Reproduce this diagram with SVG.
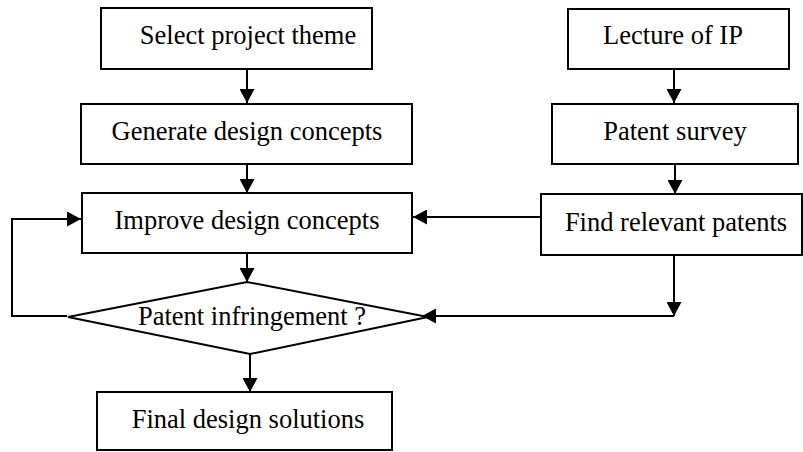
<svg xmlns="http://www.w3.org/2000/svg" width="803" height="452" viewBox="0 0 803 452">
<style>
.box{fill:#fff;stroke:#000;stroke-width:2}
.t{font-family:"Liberation Serif","Times New Roman",serif;font-size:26.5px;fill:#000;text-anchor:middle}
.c{fill:none;stroke:#000;stroke-width:2}
</style>
<defs>
<marker id="ah" markerWidth="14" markerHeight="15" refX="14" refY="7.5" orient="auto" markerUnits="userSpaceOnUse" viewBox="0 0 14 15">
<path d="M0,0 L14,7.5 L0,15 Z" fill="#000"/>
</marker>
</defs>
<rect width="803" height="452" fill="#fff"/>
<g id="connectors">
<line class="c" x1="247" y1="69" x2="247" y2="103" marker-end="url(#ah)"/>
<line class="c" x1="247" y1="164" x2="247" y2="193" marker-end="url(#ah)"/>
<line class="c" x1="247" y1="253" x2="247" y2="282" marker-end="url(#ah)"/>
<line class="c" x1="250" y1="354" x2="250" y2="392" marker-end="url(#ah)"/>
<line class="c" x1="674" y1="69" x2="674" y2="103" marker-end="url(#ah)"/>
<line class="c" x1="675" y1="164" x2="675" y2="194" marker-end="url(#ah)"/>
<line class="c" x1="541" y1="217" x2="413" y2="217" marker-end="url(#ah)"/>
<line class="c" x1="674" y1="255" x2="674" y2="316" marker-end="url(#ah)"/>
<line class="c" x1="674" y1="316" x2="422" y2="316" marker-end="url(#ah)"/>
<polyline class="c" points="67,316 12,316 12,219 81,219" marker-end="url(#ah)"/>
</g>
<g id="select"><rect class="box" x="101" y="8" width="271" height="61"/><text class="t" x="248" y="44">Select project theme</text></g>
<g id="generate"><rect class="box" x="81" y="104" width="331" height="60"/><text class="t" x="247" y="140">Generate design concepts</text></g>
<g id="improve"><rect class="box" x="82" y="193" width="330" height="60"/><text class="t" x="247" y="229">Improve design concepts</text></g>
<g id="decision"><polygon class="box" points="68,317 247,282 428,317 250,354"/><text class="t" x="252" y="325">Patent infringement ?</text></g>
<g id="final"><rect class="box" x="97" y="392" width="295" height="58"/><text class="t" x="248" y="428">Final design solutions</text></g>
<g id="lecture"><rect class="box" x="568" y="9" width="221" height="60"/><text class="t" x="673" y="44">Lecture of IP</text></g>
<g id="survey"><rect class="box" x="552" y="104" width="246" height="60"/><text class="t" x="675" y="140">Patent survey</text></g>
<g id="find"><rect class="box" x="541" y="194" width="261" height="61"/><text class="t" x="676" y="231">Find relevant patents</text></g>
</svg>
